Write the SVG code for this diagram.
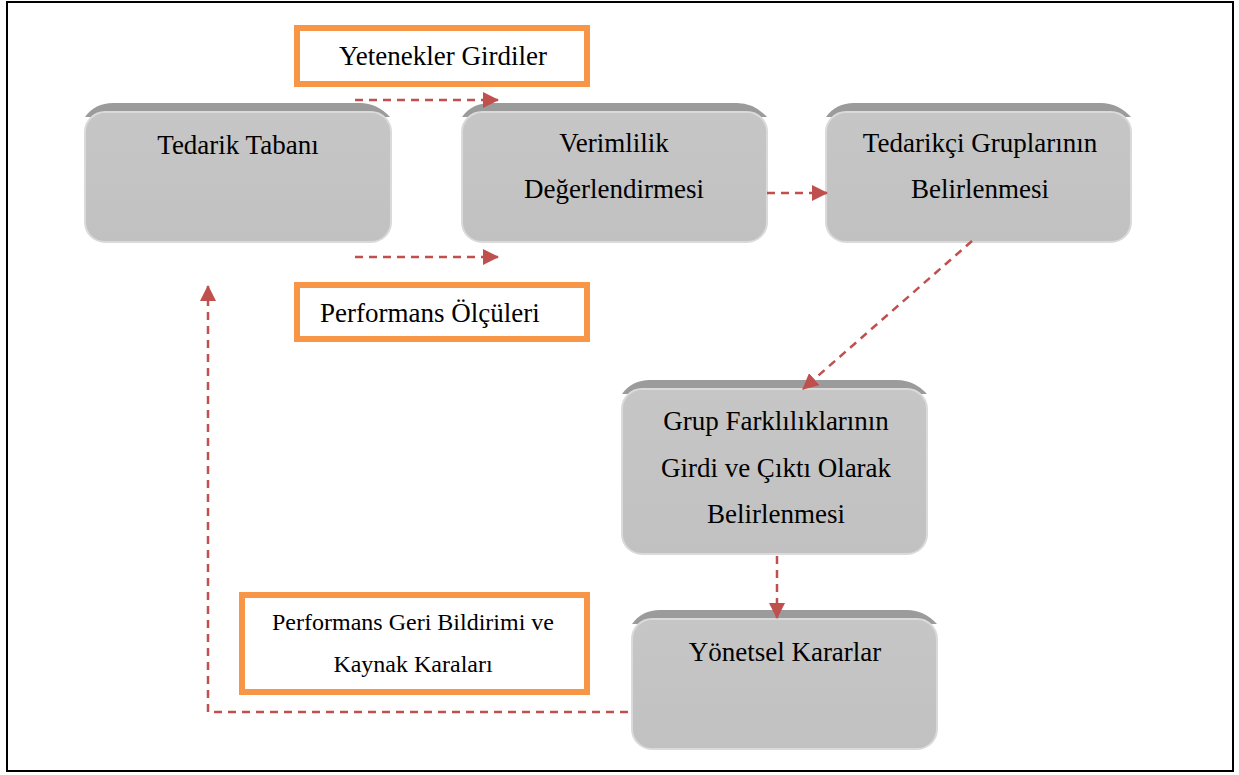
<svg xmlns="http://www.w3.org/2000/svg" width="1239" height="775" viewBox="0 0 1239 775">
  <style>
    text { font-family: "Liberation Serif", "Times New Roman", serif; fill: #000; }
    .nodetxt { font-size: 27px; text-anchor: middle; }
    .lbl { fill: #fff; stroke: #f79646; stroke-width: 6; }
    .bevel { fill: #9b9b9b; }
    .body { fill: url(#bodyGrad); stroke: #dadada; stroke-width: 2; }
    .conn { fill: none; stroke: #c0504d; stroke-width: 2.5; stroke-dasharray: 8 6; }
  </style>
  <defs>
    <linearGradient id="bodyGrad" x1="0" y1="0" x2="0" y2="1">
      <stop offset="0" stop-color="#c6c6c6"/>
      <stop offset="1" stop-color="#c1c1c1"/>
    </linearGradient>
    <!-- bevel band drawn at origin, moved into place per node -->
    <path id="bevel" class="bevel" d="M28,0 H275 Q292,0 305,14 H0 Q10,0 28,0 Z"/>
    <marker id="arrow" viewBox="0 0 16 16" refX="15" refY="8" markerWidth="16" markerHeight="16" markerUnits="userSpaceOnUse" orient="auto">
      <path d="M0,0 L16,8 L0,16 Z" fill="#c0504d"/>
    </marker>
  </defs>

  <!-- frame -->
  <rect x="7" y="2" width="1226" height="769" fill="#fff" stroke="#000" stroke-width="2"/>

  <!-- process nodes: darker bevel band on top, rounded body below -->
  <g id="node-tedarik-tabani">
    <use href="#bevel" x="85" y="103"/>
    <rect class="body" x="85" y="112" width="306" height="130" rx="20"/>
    <text class="nodetxt" x="238" y="154">Tedarik Tabanı</text>
  </g>

  <g id="node-verimlilik">
    <use href="#bevel" x="462" y="103"/>
    <rect class="body" x="462" y="112" width="305" height="130" rx="20"/>
    <text class="nodetxt" x="614" y="152">Verimlilik</text>
    <text class="nodetxt" x="614" y="198">Değerlendirmesi</text>
  </g>

  <g id="node-tedarikci-gruplari">
    <use href="#bevel" x="826" y="103"/>
    <rect class="body" x="826" y="112" width="305" height="130" rx="20"/>
    <text class="nodetxt" x="980" y="152">Tedarikçi Gruplarının</text>
    <text class="nodetxt" x="980" y="198">Belirlenmesi</text>
  </g>

  <g id="node-grup-farkliliklari">
    <use href="#bevel" x="622" y="380"/>
    <rect class="body" x="622" y="389" width="305" height="165" rx="20"/>
    <text class="nodetxt" x="776" y="430">Grup Farklılıklarının</text>
    <text class="nodetxt" x="776" y="477">Girdi ve Çıktı Olarak</text>
    <text class="nodetxt" x="776" y="523">Belirlenmesi</text>
  </g>

  <g id="node-yonetsel-kararlar">
    <use href="#bevel" x="632" y="610"/>
    <rect class="body" x="632" y="619" width="305" height="130" rx="20"/>
    <text class="nodetxt" x="785" y="661">Yönetsel Kararlar</text>
  </g>

  <!-- orange label boxes -->
  <g id="label-yetenekler">
    <rect class="lbl" x="297" y="28" width="290" height="56"/>
    <text x="443" y="65" font-size="27" text-anchor="middle">Yetenekler Girdiler</text>
  </g>

  <g id="label-performans-olculeri">
    <rect class="lbl" x="297" y="285" width="290" height="54"/>
    <text x="320" y="322" font-size="27">Performans Ölçüleri</text>
  </g>

  <g id="label-geri-bildirim">
    <rect class="lbl" x="242" y="595" width="345" height="97"/>
    <text x="413" y="630" font-size="24" text-anchor="middle">Performans Geri Bildirimi ve</text>
    <text x="413" y="672" font-size="24" text-anchor="middle">Kaynak Karaları</text>
  </g>

  <!-- dashed connectors -->
  <g id="connectors">
    <path class="conn" d="M355,100 H498" marker-end="url(#arrow)"/>
    <path class="conn" d="M355,257 H498" marker-end="url(#arrow)"/>
    <path class="conn" d="M767,193 H827" marker-end="url(#arrow)"/>
    <path class="conn" d="M972,241 L803,389" marker-end="url(#arrow)"/>
    <path class="conn" d="M777,556 V618" marker-end="url(#arrow)"/>
    <path class="conn" d="M628,712 H208 V286" marker-end="url(#arrow)"/>
  </g>
</svg>
